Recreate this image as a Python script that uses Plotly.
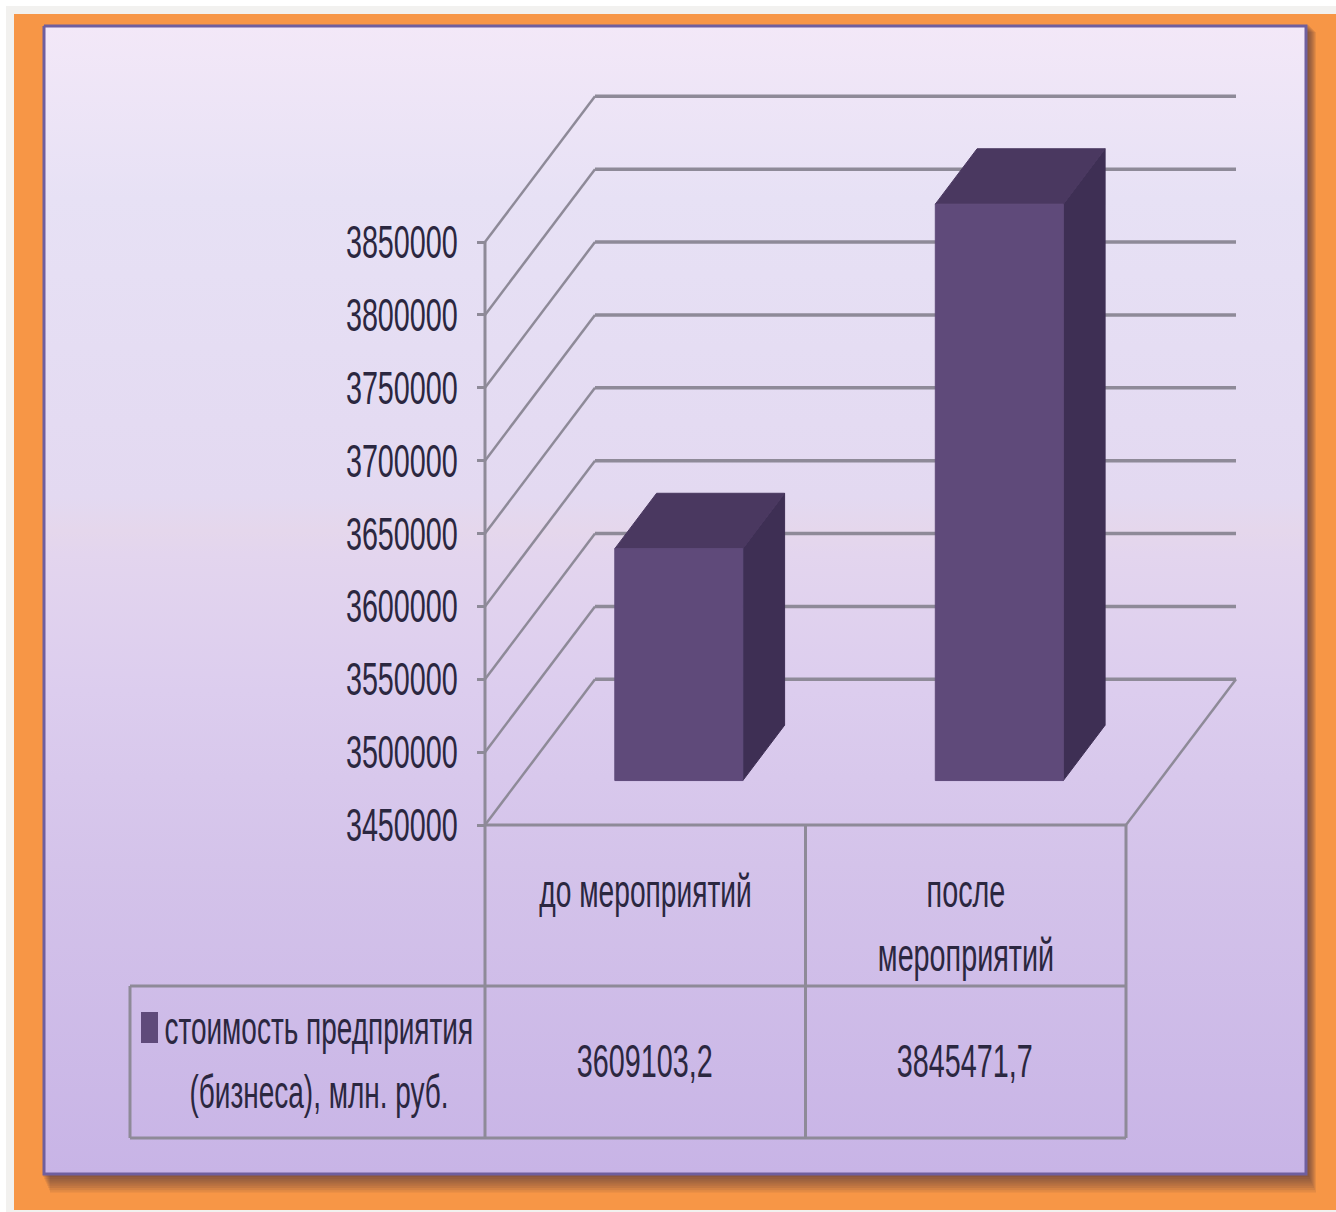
import plotly.graph_objects as go

# ---- data ----
categories = ["до мероприятий", "после<br>мероприятий"]
series_name = ["стоимость предприятия", "(бизнеса), млн. руб."]
values = [3609103.2, 3845471.7]
value_labels = ["3609103,2", "3845471,7"]
tick_values = [3450000, 3500000, 3550000, 3600000, 3650000, 3700000, 3750000, 3800000, 3850000]

# ---- layout constants (pixels of the 1336x1212 page) ----
W, H = 1336, 1212
AX_LEFT, CAT_W = 485, 320.5
Y0_PX, Y_TOP_PX = 825, 242
PX_PER_UNIT = (Y0_PX - Y_TOP_PX) / (tick_values[-1] - tick_values[0])
DEPTH_X = 110 / CAT_W        # depth shift in category units
DEPTH_Y = 2 * (tick_values[1] - tick_values[0])   # depth shift in value units
BAR_W = 128 / CAT_W
BAR_D0, BAR_D1 = 0.305, 0.685  # bar's position in the depth of the floor

x_lo = -(AX_LEFT + CAT_W / 2) / CAT_W
x_hi = (W - AX_LEFT - CAT_W / 2) / CAT_W
v_lo = tick_values[0] - (H - Y0_PX) / PX_PER_UNIT
v_hi = tick_values[0] + Y0_PX / PX_PER_UNIT

GRID = "#8e8a98"
TEXT = "#2b2740"
FONT = "Liberation Sans, Arial, sans-serif"
FSIZE = 46
FRONT, TOP, SIDE = "#5f4a7a", "#4a3860", "#3e2f54"

fig = go.Figure()

def pr(x0, y0, x1, y1, **kw):
    fig.add_shape(type="rect", xref="paper", yref="paper", x0=x0 / W, x1=x1 / W,
                  y0=1 - y0 / H, y1=1 - y1 / H, layer="below", **kw)

pr(0, 0, W, H, fillcolor="#ffffff", line_width=0)
pr(6, 6, W, H, fillcolor="#f2f1ef", line_width=0)
pr(14, 14, W, 1210, fillcolor="#f79646", line_width=0)
for i in range(8):
    pr(43 + i, 25 + i, 1309 + i, 1177 + i * 2.2, fillcolor="rgba(70,45,60,0.10)", line_width=0)

fig.add_trace(go.Scatter(
    x=[44, 1306, 1306, 44, 44], y=[26, 26, 1174, 1174, 26], mode="lines", fill="toself",
    line=dict(color="#6f5f9e", width=3), hoverinfo="skip", showlegend=False,
    fillgradient=dict(type="vertical", colorscale=[
        [0.0, "#c8b4e6"], [0.27, "#d4c3ea"], [0.42, "#dccdee"], [0.54, "#e3d5ee"],
        [0.56, "#e5d7ec"], [0.59, "#e3d9f1"], [0.85, "#e7e1f5"], [1.0, "#f3e8f8"]]),
    xaxis="x", yaxis="y"))

def add_line(xs, ys, width=3):
    fig.add_trace(go.Scatter(x=xs, y=ys, mode="lines", line=dict(color=GRID, width=width),
                             hoverinfo="skip", showlegend=False, xaxis="x2", yaxis="y2"))

def add_face(xs, ys, color):
    fig.add_trace(go.Scatter(x=xs + xs[:1], y=ys + ys[:1], mode="lines", fill="toself",
                             fillcolor=color, line=dict(color=color, width=1),
                             hoverinfo="skip", showlegend=False, xaxis="x2", yaxis="y2"))

xL, xR = -0.5, 0.5 + len(categories) - 1

add_line([xL, xL], [tick_values[0], tick_values[-1]], 3)
for t in tick_values:
    add_line([xL, xL + DEPTH_X], [t, t + DEPTH_Y], 2.5)
    add_line([xL + DEPTH_X, xR + DEPTH_X], [t + DEPTH_Y, t + DEPTH_Y], 3.5)
add_line([xR, xR + DEPTH_X], [tick_values[0], tick_values[0] + DEPTH_Y], 2.5)
add_line([xL, xR], [tick_values[0], tick_values[0]], 3)

base = tick_values[0]
for i, v in enumerate(values):
    cx = i + BAR_D0 * DEPTH_X
    l, r = cx - BAR_W / 2, cx + BAR_W / 2
    off_y = BAR_D0 * DEPTH_Y
    dx = (BAR_D1 - BAR_D0) * DEPTH_X
    dy = (BAR_D1 - BAR_D0) * DEPTH_Y
    b, t = base + off_y, v + off_y
    add_face([r, r + dx, r + dx, r], [b, b + dy, t + dy, t], SIDE)
    add_face([l, r, r + dx, l + dx], [t, t, t + dy, t + dy], TOP)
    add_face([l, r, r, l], [b, b, t, t], FRONT)

T_L, T_C0, T_C1, T_C2 = 130, 485, 805.5, 1126
R0, R1, R2 = 825, 986, 1138
for (x0, y0, x1, y1) in [(T_C0, R0, T_C0, R2), (T_C1, R0, T_C1, R2), (T_C2, R0, T_C2, R2),
                         (T_L, R1, T_C2, R1), (T_L, R2, T_C2, R2), (T_L, R1, T_L, R2)]:
    fig.add_shape(type="line", xref="x", yref="y", x0=x0, y0=y0, x1=x1, y1=y1,
                  line=dict(color=GRID, width=3), layer="above")
fig.add_shape(type="rect", xref="x", yref="y", x0=141, x1=158, y0=1012, y1=1043,
              fillcolor=FRONT, line_width=0, layer="above")

def note(x, y, text):
    fig.add_annotation(xref="x", yref="y", x=x, y=y, text=text, showarrow=False, xanchor="center",
                       yanchor="middle", font=dict(family=FONT, size=FSIZE, color=TEXT), align="center")

for i, (c, lab) in enumerate(zip(categories, value_labels)):
    cx = AX_LEFT + CAT_W * (i + 0.5)
    if "<br>" in c:
        a, b = c.split("<br>")
        note(cx, 891, a); note(cx, 955, b)
    else:
        note(cx, 891, c)
    note(cx - 1, 1061, lab)
note(319, 1028, series_name[0])
note(319, 1092, series_name[1])

fig.update_layout(
    width=W, height=H, autosize=False, margin=dict(l=0, r=0, t=0, b=0),
    paper_bgcolor="#f2f1ef", plot_bgcolor="rgba(0,0,0,0)", showlegend=False,
    xaxis=dict(range=[0, W], visible=False, domain=[0, 1], fixedrange=True),
    yaxis=dict(range=[H, 0], visible=False, domain=[0, 1], fixedrange=True),
    xaxis2=dict(range=[x_lo, x_hi], overlaying="x", visible=False, fixedrange=True),
    yaxis2=dict(range=[v_lo, v_hi], overlaying="y", anchor="free", position=AX_LEFT / W,
                side="left", showgrid=False, zeroline=False, showline=False,
                tickmode="array", tickvals=tick_values, ticktext=[str(t) for t in tick_values],
                ticks="outside", ticklen=8, tickwidth=3, tickcolor=GRID, ticklabelstandoff=10,
                tickfont=dict(family=FONT, size=FSIZE, color=TEXT), fixedrange=True),
)

# The page has no margin, and the (tall, narrow) lettering of the original is kept by
# condensing the real text horizontally.
POST = """
document.body.style.margin = '0';
var gd = document.getElementById('{plot_id}');
function condense() {
  gd.querySelectorAll('svg text').forEach(function (t) {
    if (t.getAttribute('lengthAdjust')) return;
    var n = t.getComputedTextLength();
    if (n > 0) {
      var k = n > 400 ? 0.608 : (n > 300 ? 0.612 : 0.625);
      t.setAttribute('textLength', (n * k).toFixed(1));
      t.setAttribute('lengthAdjust', 'spacingAndGlyphs');
    }
  });
}
condense();
"""
fig.write_html("out.html", config=dict(displayModeBar=False), post_script=POST)
